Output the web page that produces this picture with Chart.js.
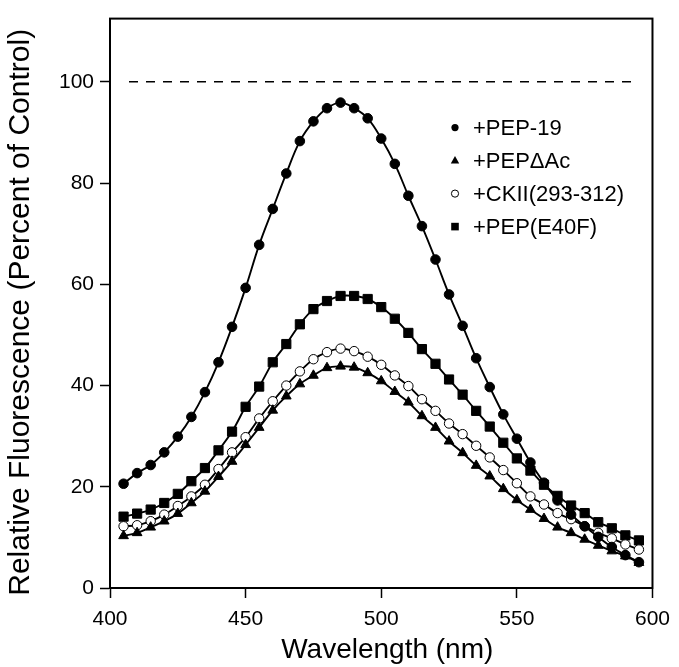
<!DOCTYPE html>
<html lang="en">
<head>
<meta charset="UTF-8">
<title>Relative Fluorescence vs Wavelength</title>
<script src="https://cdn.jsdelivr.net/npm/chart.js"></script>
<style>
  body { margin: 0; background: #fff; }
  #wrap { width: 679px; height: 667px; }
</style>
</head>
<body>
<div id="wrap"><canvas id="fluorChart"></canvas></div>
<script>
// wavelengths (nm), one reading every 5 nm
const wavelengths = [405, 410, 415, 420, 425, 430, 435, 440, 445, 450,
                     455, 460, 465, 470, 475, 480, 485, 490, 495, 500,
                     505, 510, 515, 520, 525, 530, 535, 540, 545, 550,
                     555, 560, 565, 570, 575, 580, 585, 590, 595];

const pep19 = [20.6, 22.7, 24.3, 26.8, 29.9, 33.8, 38.7, 44.6, 51.6, 59.3,
               67.8, 74.9, 81.9, 88.3, 92.2, 94.8, 95.9, 94.8, 92.8, 88.8,
               83.8, 77.5, 71.5, 64.9, 58.0, 51.8, 45.4, 39.7, 34.3, 29.5,
               24.8, 20.8, 17.3, 14.5, 12.2, 10.1, 8.1, 6.5, 5.1];

const pepDeltaAc = [10.3, 10.9, 12.0, 13.2, 14.7, 16.8, 19.1, 22.0, 25.0, 28.3,
                    31.7, 35.1, 37.9, 40.3, 42.0, 43.5, 43.8, 43.6, 42.5, 40.9,
                    38.8, 36.7, 34.0, 31.7, 29.0, 26.7, 24.2, 22.1, 19.6, 17.4,
                    15.5, 13.7, 12.0, 10.9, 9.6, 8.4, 7.3, 6.3, 5.0];

const ckii = [12.2, 12.4, 13.2, 14.5, 16.2, 18.1, 20.4, 23.5, 26.8, 29.8,
              33.5, 36.9, 40.0, 42.8, 45.2, 46.6, 47.3, 46.8, 45.7, 44.1,
              42.0, 39.9, 37.3, 35.0, 32.5, 30.4, 28.1, 25.8, 23.3, 20.7,
              18.1, 16.5, 14.8, 13.6, 12.2, 10.9, 9.8, 8.6, 7.6];

const pepE40F = [14.1, 14.7, 15.5, 16.8, 18.6, 21.1, 23.7, 27.2, 30.9, 35.8,
                 39.8, 44.6, 48.2, 52.1, 55.1, 56.7, 57.7, 57.7, 57.1, 55.5,
                 53.2, 50.4, 47.2, 44.3, 41.2, 38.2, 35.0, 31.9, 28.7, 25.6,
                 23.2, 20.4, 18.2, 16.3, 14.8, 13.0, 11.8, 10.4, 9.4];

// control level (dashed line)
const controlX = [407, 595];
const controlY = [100, 100];

const seriesNames = ['+PEP-19', '+PEP\u0394Ac', '+CKII(293-312)', '+PEP(E40F)'];
const xTicks = [400, 450, 500, 550, 600];
const yTicks = [0, 20, 40, 60, 80, 100];
const xTitle = 'Wavelength (nm)';
const yTitle = 'Relative Fluorescence (Percent of Control)';

const FONT = '"Liberation Sans", Arial, Helvetica, sans-serif';

function toPoints(xs, ys) {
    return xs.map((x, i) => ({ x: x, y: ys[i] }));
}

function series(name, values, style, radius, fill) {
    return {
        label: name,
        data: toPoints(wavelengths, values),
        borderColor: '#000',
        borderWidth: 1.9,
        tension: 0.4,
        pointStyle: style,
        pointRadius: radius,
        pointBackgroundColor: fill,
        pointBorderColor: '#000',
        pointBorderWidth: 1,
        fill: false
    };
}

// box round the plot
const frame = {
    id: 'frame',
    afterDraw(chart) {
        const a = chart.chartArea, ctx = chart.ctx;
        ctx.save();
        ctx.strokeStyle = '#000';
        ctx.lineWidth = 2;
        ctx.strokeRect(a.left, a.top, a.right - a.left, a.bottom - a.top);
        ctx.restore();
    }
};

// axis titles, placed by hand (the scale titles can't be nudged sideways)
const axisTitles = {
    id: 'axisTitles',
    afterDraw(chart) {
        const a = chart.chartArea, ctx = chart.ctx;
        ctx.save();
        ctx.fillStyle = '#000';
        ctx.textAlign = 'center';
        ctx.textBaseline = 'alphabetic';
        ctx.font = '28px ' + FONT;
        ctx.fillText(xTitle, (a.left + a.right) / 2 + 6, 658);
        ctx.translate(29, (a.top + a.bottom) / 2 + 9);
        ctx.rotate(-Math.PI / 2);
        ctx.font = '30px ' + FONT;
        ctx.fillText(yTitle, 0, 0);
        ctx.restore();
    }
};

// legend drawn inside the plot, upper right
const insideLegend = {
    id: 'insideLegend',
    afterDraw(chart) {
        const a = chart.chartArea, ctx = chart.ctx;
        const mx = a.left + 345, tx = a.left + 363;
        ctx.save();
        ctx.font = '22px ' + FONT;
        ctx.textBaseline = 'middle';
        ctx.lineWidth = 1;
        ctx.strokeStyle = '#000';
        seriesNames.forEach((name, i) => {
            const y = a.top + 109 + i * 33;
            ctx.fillStyle = '#000';
            ctx.beginPath();
            if (i === 0 || i === 2) {
                ctx.arc(mx, y, 3.6, 0, Math.PI * 2);
                if (i === 2) { ctx.fillStyle = '#fff'; }
                ctx.fill();
                if (i === 2) { ctx.stroke(); }
            } else if (i === 1) {
                ctx.moveTo(mx, y - 4.5);
                ctx.lineTo(mx + 4.2, y + 3);
                ctx.lineTo(mx - 4.2, y + 3);
                ctx.closePath();
                ctx.fill();
            } else {
                ctx.rect(mx - 3.8, y - 3.8, 7.6, 7.6);
                ctx.fill();
            }
            ctx.fillStyle = '#000';
            ctx.fillText(name, tx, y + 1);
        });
        ctx.restore();
    }
};

window.onload = function() {
    const ctx = document.getElementById('fluorChart').getContext('2d');
    new Chart(ctx, {
        type: 'line',
        data: {
            datasets: [
                series(seriesNames[0], pep19, 'circle', 4.8, '#000'),
                series(seriesNames[1], pepDeltaAc, 'triangle', 5.6, '#000'),
                series(seriesNames[2], ckii, 'circle', 4.7, '#fff'),
                series(seriesNames[3], pepE40F, 'rect', 6.5, '#000'),
                {
                    label: 'Control',
                    data: toPoints(controlX, controlY),
                    borderColor: '#000',
                    borderWidth: 1.5,
                    borderDash: [9, 8],
                    pointRadius: 0,
                    fill: false
                }
            ]
        },
        options: {
            responsive: true,
            maintainAspectRatio: false,
            animation: false,
            layout: { padding: { left: 0, right: 22, top: 15, bottom: 0 } },
            plugins: {
                legend: { display: false },
                tooltip: { enabled: false }
            },
            scales: {
                x: {
                    type: 'linear',
                    min: 400,
                    max: 600,
                    afterBuildTicks: s => { s.ticks = xTicks.map(v => ({ value: v })); },
                    afterFit: s => { s.height = 79; },
                    grid: { drawOnChartArea: false, tickLength: 10, tickColor: '#000', tickWidth: 1.5 },
                    border: { color: '#000', width: 2 },
                    ticks: { color: '#000', font: { family: FONT, size: 21 }, padding: 9, maxRotation: 0 }
                },
                y: {
                    min: 0,
                    max: 112.5,
                    afterBuildTicks: s => { s.ticks = yTicks.map(v => ({ value: v })); },
                    afterFit: s => { s.width = 110; },
                    grid: { drawOnChartArea: false, tickLength: 10, tickColor: '#000', tickWidth: 1.5 },
                    border: { color: '#000', width: 2 },
                    ticks: { color: '#000', font: { family: FONT, size: 21 }, padding: 6 }
                }
            }
        },
        plugins: [frame, axisTitles, insideLegend]
    });
};
</script>
</body>
</html>
